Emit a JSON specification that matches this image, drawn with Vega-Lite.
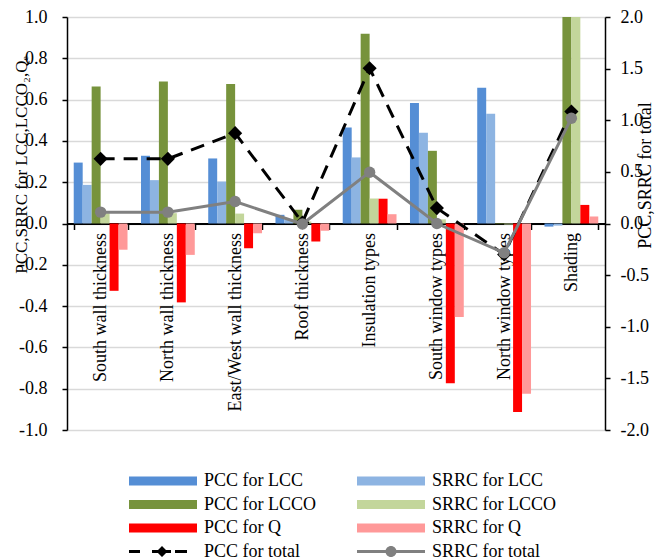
{
  "$schema": "https://vega.github.io/schema/vega-lite/v6.json",
  "width": 538,
  "height": 413,
  "autosize": "none",
  "padding": {"left": 67, "top": 17, "right": 50, "bottom": 129},
  "config": {"view": {"stroke": null}, "font": "Liberation Serif, Times New Roman, Tinos, DejaVu Serif, serif"},
  "data": {"values": [
    {"cat": "South wall thickness", "series": "PCC for LCC", "value": 0.295},
    {"cat": "South wall thickness", "series": "SRRC for LCC", "value": 0.187},
    {"cat": "South wall thickness", "series": "PCC for LCCO", "value": 0.663},
    {"cat": "South wall thickness", "series": "SRRC for LCCO", "value": 0.05},
    {"cat": "South wall thickness", "series": "PCC for Q", "value": -0.326},
    {"cat": "South wall thickness", "series": "SRRC for Q", "value": -0.127},
    {"cat": "North wall thickness", "series": "PCC for LCC", "value": 0.328},
    {"cat": "North wall thickness", "series": "SRRC for LCC", "value": 0.21},
    {"cat": "North wall thickness", "series": "PCC for LCCO", "value": 0.688},
    {"cat": "North wall thickness", "series": "SRRC for LCCO", "value": 0.05},
    {"cat": "North wall thickness", "series": "PCC for Q", "value": -0.382},
    {"cat": "North wall thickness", "series": "SRRC for Q", "value": -0.152},
    {"cat": "East/West wall thickness", "series": "PCC for LCC", "value": 0.315},
    {"cat": "East/West wall thickness", "series": "SRRC for LCC", "value": 0.203},
    {"cat": "East/West wall thickness", "series": "PCC for LCCO", "value": 0.675},
    {"cat": "East/West wall thickness", "series": "SRRC for LCCO", "value": 0.048},
    {"cat": "East/West wall thickness", "series": "PCC for Q", "value": -0.12},
    {"cat": "East/West wall thickness", "series": "SRRC for Q", "value": -0.047},
    {"cat": "Roof thickness", "series": "PCC for LCC", "value": 0.042},
    {"cat": "Roof thickness", "series": "SRRC for LCC", "value": 0.02},
    {"cat": "Roof thickness", "series": "PCC for LCCO", "value": 0.066},
    {"cat": "Roof thickness", "series": "SRRC for LCCO", "value": 0.01},
    {"cat": "Roof thickness", "series": "PCC for Q", "value": -0.087},
    {"cat": "Roof thickness", "series": "SRRC for Q", "value": -0.035},
    {"cat": "Insulation types", "series": "PCC for LCC", "value": 0.465},
    {"cat": "Insulation types", "series": "SRRC for LCC", "value": 0.32},
    {"cat": "Insulation types", "series": "PCC for LCCO", "value": 0.919},
    {"cat": "Insulation types", "series": "SRRC for LCCO", "value": 0.121},
    {"cat": "Insulation types", "series": "PCC for Q", "value": 0.12},
    {"cat": "Insulation types", "series": "SRRC for Q", "value": 0.045},
    {"cat": "South window types", "series": "PCC for LCC", "value": 0.583},
    {"cat": "South window types", "series": "SRRC for LCC", "value": 0.44},
    {"cat": "South window types", "series": "PCC for LCCO", "value": 0.352},
    {"cat": "South window types", "series": "SRRC for LCCO", "value": 0.02},
    {"cat": "South window types", "series": "PCC for Q", "value": -0.774},
    {"cat": "South window types", "series": "SRRC for Q", "value": -0.453},
    {"cat": "North window types", "series": "PCC for LCC", "value": 0.657},
    {"cat": "North window types", "series": "SRRC for LCC", "value": 0.531},
    {"cat": "North window types", "series": "PCC for LCCO", "value": -0.003},
    {"cat": "North window types", "series": "SRRC for LCCO", "value": -0.005},
    {"cat": "North window types", "series": "PCC for Q", "value": -0.913},
    {"cat": "North window types", "series": "SRRC for Q", "value": -0.825},
    {"cat": "Shading", "series": "PCC for LCC", "value": -0.015},
    {"cat": "Shading", "series": "SRRC for LCC", "value": -0.01},
    {"cat": "Shading", "series": "PCC for LCCO", "value": 1.0},
    {"cat": "Shading", "series": "SRRC for LCCO", "value": 1.0},
    {"cat": "Shading", "series": "PCC for Q", "value": 0.09},
    {"cat": "Shading", "series": "SRRC for Q", "value": 0.034},
    {"cat": "South wall thickness", "series": "PCC for total", "value": 0.626},
    {"cat": "North wall thickness", "series": "PCC for total", "value": 0.626},
    {"cat": "East/West wall thickness", "series": "PCC for total", "value": 0.875},
    {"cat": "Roof thickness", "series": "PCC for total", "value": 0.01},
    {"cat": "Insulation types", "series": "PCC for total", "value": 1.504},
    {"cat": "South window types", "series": "PCC for total", "value": 0.149},
    {"cat": "North window types", "series": "PCC for total", "value": -0.3},
    {"cat": "Shading", "series": "PCC for total", "value": 1.084},
    {"cat": "South wall thickness", "series": "SRRC for total", "value": 0.11},
    {"cat": "North wall thickness", "series": "SRRC for total", "value": 0.11},
    {"cat": "East/West wall thickness", "series": "SRRC for total", "value": 0.213},
    {"cat": "Roof thickness", "series": "SRRC for total", "value": -0.005},
    {"cat": "Insulation types", "series": "SRRC for total", "value": 0.497},
    {"cat": "South window types", "series": "SRRC for total", "value": 0.0},
    {"cat": "North window types", "series": "SRRC for total", "value": -0.284},
    {"cat": "Shading", "series": "SRRC for total", "value": 1.02}
  ]},
  "encoding": {
    "x": {
      "field": "cat", "type": "nominal", "title": null,
      "sort": ["South wall thickness", "North wall thickness", "East/West wall thickness", "Roof thickness", "Insulation types", "South window types", "North window types", "Shading"],
      "scale": {"paddingInner": 0.2, "paddingOuter": 0.1},
      "axis": {
        "orient": "bottom", "offset": -206.5, "labelAngle": -90, "labelAlign": "right", "labelBaseline": "middle",
        "labelPadding": 3, "tickBand": "extent", "tickSize": 6, "tickColor": "black", "tickWidth": 1.5,
        "domainColor": "black", "domainWidth": 2, "labelFontSize": 18,
        "labelColor": "black", "labelLimit": 400, "labelOverlap": false, "grid": false
      }
    },
    "color": {
      "field": "series", "type": "nominal",
      "scale": {
        "domain": ["PCC for LCC", "SRRC for LCC", "PCC for LCCO", "SRRC for LCCO", "PCC for Q", "SRRC for Q", "PCC for total", "SRRC for total"],
        "range": ["#558ED5", "#8DB4E2", "#77933C", "#C3D69B", "#FF0000", "#FF9999", "#000000", "#808080"]
      },
      "legend": {
        "title": null, "orient": "none", "legendX": 58, "legendY": 455, "columns": 2, "direction": "horizontal",
        "columnPadding": 36, "rowPadding": 5.5, "symbolSize": 100, "labelOffset": 61, "padding": 0,
        "labelFontSize": 18, "labelColor": "black", "labelLimit": 300,
        "encode": {
          "symbols": {
            "update": {
              "shape": {"signal": "datum.value === 'PCC for total' ? 'M-1,-0.3H1.2V0.3H-1Z M3.6,-0.3H7.4V0.3H3.6Z M8.2,-0.3H10.6V0.3H8.2Z M5.6,-1.1L6.7,0L5.6,1.1L4.5,0Z' : (datum.value === 'SRRC for total' ? 'M-1,-0.3H12.6V0.3H-1Z M4.7,0A1.1,1.1 0 1,1 6.9,0A1.1,1.1 0 1,1 4.7,0Z' : 'M-1,-0.9H12.6V0.9H-1Z')"},
              "fill": {"signal": "scale('color', datum.value)"},
              "fillOpacity": {"value": 1},
              "opacity": {"value": 1},
              "stroke": {"value": "transparent"},
              "strokeWidth": {"value": 0},
              "strokeDash": {"value": []},
              "size": {"value": 100}
            }
          }
        }
      }
    }
  },
  "layer": [
    {
      "transform": [{"filter": "datum.series !== 'PCC for total' && datum.series !== 'SRRC for total'"}],
      "mark": {"type": "bar"},
      "encoding": {
        "xOffset": {"field": "series", "type": "nominal", "sort": ["PCC for LCC", "SRRC for LCC", "PCC for LCCO", "SRRC for LCCO", "PCC for Q", "SRRC for Q"]},
        "y": {
          "field": "value", "type": "quantitative",
          "scale": {"domain": [-1, 1], "nice": false, "zero": false},
          "axis": {
            "values": [-1, -0.8, -0.6, -0.4, -0.2, 0, 0.2, 0.4, 0.6, 0.8, 1],
            "labelExpr": "replace(format(datum.value, '.1f'), '\u2212', '-')",
            "tickSize": 5, "tickColor": "black", "tickWidth": 1.5,
            "domainColor": "black", "domainWidth": 1.5,
            "grid": true, "gridColor": "#d9d9d9", "gridWidth": 1.5,
            "labelFontSize": 18, "labelColor": "black", "labelPadding": 15,
            "title": "PCC,SRRC for LCC,LCCO\u2082,Q\u2091",
            "titleFontSize": 17, "titleFontWeight": "normal", "titleColor": "black",
            "titleX": -41, "titleY": 147.5, "titleAngle": -90, "titleAlign": "center", "titleBaseline": "alphabetic"
          }
        }
      }
    },
    {
      "layer": [
        {
          "transform": [{"filter": "datum.series === 'PCC for total'"}],
          "mark": {"type": "line", "strokeWidth": 3, "strokeDash": [14, 9], "point": {"shape": "diamond", "size": 200, "filled": true, "opacity": 1}},
          "encoding": {
            "order": {"value": null},
            "y": {
              "field": "value", "type": "quantitative",
              "scale": {"domain": [-2, 2], "nice": false, "zero": false},
              "axis": {
                "orient": "right",
                "values": [-2, -1.5, -1, -0.5, 0, 0.5, 1, 1.5, 2],
                "labelExpr": "replace(format(datum.value, '.1f'), '\u2212', '-')",
                "tickSize": 5, "tickColor": "black", "tickWidth": 1.5,
                "domainColor": "black", "domainWidth": 1.5, "grid": false,
                "labelFontSize": 18, "labelColor": "black", "labelPadding": 10,
                "title": "PCC,SRRC for total",
                "titleFontSize": 18, "titleFontWeight": "normal", "titleColor": "black",
                "titleX": 45, "titleY": 158, "titleAngle": -90, "titleAlign": "center", "titleBaseline": "alphabetic"
              }
            }
          }
        },
        {
          "transform": [{"filter": "datum.series === 'SRRC for total'"}],
          "mark": {"type": "line", "strokeWidth": 3, "point": {"shape": "circle", "size": 130, "filled": true, "opacity": 1}},
          "encoding": {
            "order": {"value": null},
            "y": {"field": "value", "type": "quantitative", "scale": {"domain": [-2, 2], "nice": false, "zero": false}}
          }
        }
      ]
    }
  ],
  "resolve": {"scale": {"y": "independent"}, "axis": {"y": "independent"}}
}
